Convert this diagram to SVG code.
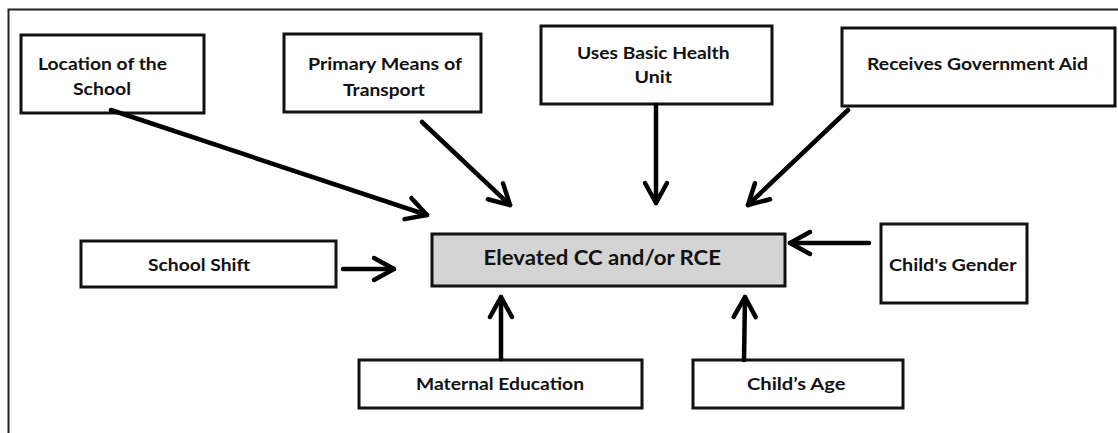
<svg xmlns="http://www.w3.org/2000/svg" width="1118" height="433" viewBox="0 0 1118 433">
<style>
.box{fill:#fff;stroke:#111;stroke-width:3}
.main{fill:#d4d4d4;stroke:#111;stroke-width:3}
.lbl{font-family:Lato,"Open Sans","Liberation Sans",sans-serif;font-weight:bold;font-size:17.5px;fill:#111}
.big{font-size:21px}
.frame{stroke:#222;stroke-width:2;fill:none}
.arr{stroke:#000;stroke-width:4.5;fill:none;stroke-linecap:round;marker-end:url(#ah)}
</style>
<defs>
<marker id="ah" markerUnits="userSpaceOnUse" viewBox="-26 -15 30 30" refX="0" refY="0" markerWidth="30" markerHeight="30" orient="auto" overflow="visible">
<path d="M-20,-11 L0,0 L-20,11" fill="none" stroke="#000" stroke-width="4.5" stroke-linecap="round" stroke-linejoin="round"/>
</marker>
</defs>
<rect width="1118" height="433" fill="#fff"/>
<path class="frame" d="M8.5,433 V9.5 H1118"/>
<g id="n-location"><rect class="box" x="21" y="35" width="183" height="78"/>
<text class="lbl" x="38" y="70" textLength="129" lengthAdjust="spacingAndGlyphs">Location of the</text>
<text class="lbl" x="73" y="95" textLength="58" lengthAdjust="spacingAndGlyphs">School</text></g>
<g id="n-transport"><rect class="box" x="284" y="34" width="197" height="78"/>
<text class="lbl" x="308" y="70" textLength="154" lengthAdjust="spacingAndGlyphs">Primary Means of</text>
<text class="lbl" x="343" y="95.5" textLength="82" lengthAdjust="spacingAndGlyphs">Transport</text></g>
<g id="n-health"><rect class="box" x="541" y="26" width="231" height="78"/>
<text class="lbl" x="577" y="58.5" textLength="152.5" lengthAdjust="spacingAndGlyphs">Uses Basic Health</text>
<text class="lbl" x="634.5" y="83" textLength="37.5" lengthAdjust="spacingAndGlyphs">Unit</text></g>
<g id="n-aid"><rect class="box" x="842" y="28" width="273" height="78"/>
<text class="lbl" x="867" y="70" textLength="221" lengthAdjust="spacingAndGlyphs">Receives Government Aid</text></g>
<g id="n-shift"><rect class="box" x="81" y="241" width="255" height="46"/>
<text class="lbl" x="148" y="271" textLength="102" lengthAdjust="spacingAndGlyphs">School Shift</text></g>
<g id="n-main"><rect class="main" x="432" y="234" width="353" height="52"/>
<text class="lbl big" x="483.5" y="265" textLength="237.5" lengthAdjust="spacingAndGlyphs">Elevated CC and/or RCE</text></g>
<g id="n-gender"><rect class="box" x="881" y="224" width="146" height="79"/>
<text class="lbl" x="889" y="271" textLength="127.5" lengthAdjust="spacingAndGlyphs">Child's Gender</text></g>
<g id="n-maternal"><rect class="box" x="359" y="360" width="283" height="48"/>
<text class="lbl" x="416" y="390" textLength="168" lengthAdjust="spacingAndGlyphs">Maternal Education</text></g>
<g id="n-age"><rect class="box" x="693" y="360" width="210" height="48"/>
<text class="lbl" x="747" y="389.5" textLength="98.5" lengthAdjust="spacingAndGlyphs">Child’s Age</text></g>
<g id="connectors">
<line class="arr" x1="111" y1="110" x2="427" y2="215"/>
<line class="arr" x1="422" y1="122" x2="510" y2="205"/>
<line class="arr" x1="656" y1="105" x2="656" y2="203"/>
<line class="arr" x1="848" y1="110" x2="748" y2="205"/>
<line class="arr" x1="343" y1="269" x2="394" y2="269"/>
<line class="arr" x1="869" y1="243" x2="790" y2="243"/>
<line class="arr" x1="501" y1="359" x2="501" y2="297"/>
<line class="arr" x1="744" y1="360" x2="745" y2="297"/>
</g>
</svg>
